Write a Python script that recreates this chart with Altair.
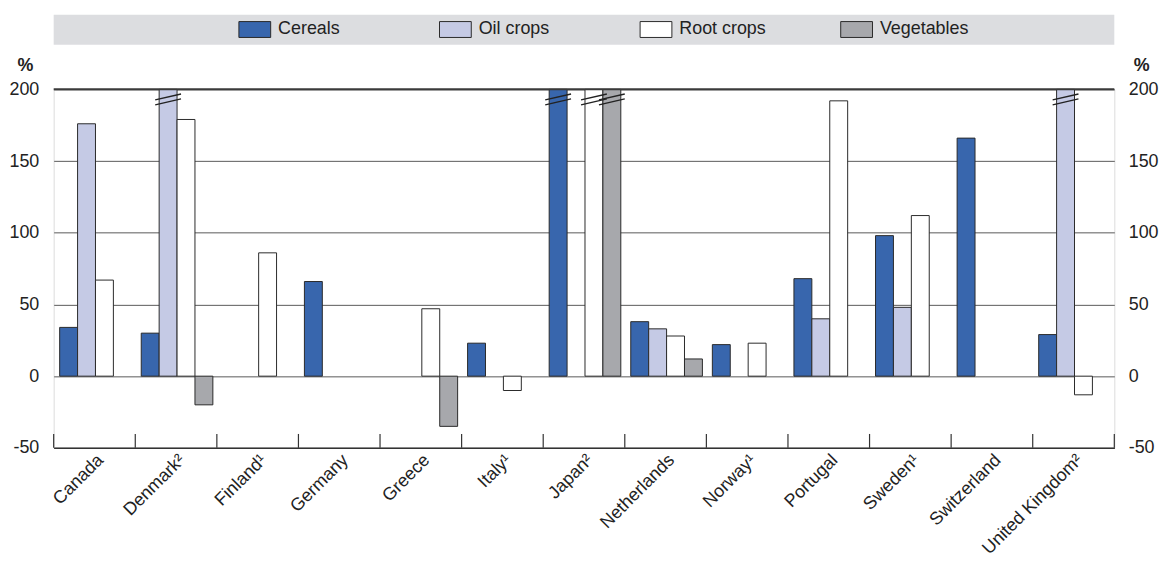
import altair as alt
import pandas as pd

countries = ["Canada", "Denmark²", "Finland¹", "Germany", "Greece", "Italy¹", "Japan²",
             "Netherlands", "Norway¹", "Portugal", "Sweden¹", "Switzerland", "United Kingdom²"]
crops = ["Cereals", "Oil crops", "Root crops", "Vegetables"]
colors = ["#3866ad", "#c5cae5", "#ffffff", "#a7a8ac"]

cereals = [34, 30, None, 66, None, 23, 200, 38, 22, 68, 98, 166, 29]
oil_crops = [176, 200, None, None, None, None, None, 33, None, 40, 48, None, 200]
root_crops = [67, 179, 86, None, 47, -10, 200, 28, 23, 192, 112, None, -13]
vegetables = [None, -20, None, None, -35, None, 200, 12, None, None, None, None, None]

# bars that run off the top of the scale (drawn with break marks)
broken = [("Denmark²", "Oil crops"), ("Japan²", "Cereals"), ("Japan²", "Root crops"),
          ("Japan²", "Vegetables"), ("United Kingdom²", "Oil crops")]
break_level = 193

y_ticks = [-50, 0, 50, 100, 150, 200]

rows = []
for crop, series in zip(crops, [cereals, oil_crops, root_crops, vegetables]):
    for c, v in zip(countries, series):
        if v is not None:
            rows.append({"country": c, "crop": crop, "value": v})
df = pd.DataFrame(rows)
brk = pd.DataFrame([{"country": c, "crop": k, "value": break_level} for c, k in broken])
tick_df = pd.DataFrame({"country": countries})
top_df = pd.DataFrame({"v": [200]})
band_df = pd.DataFrame({"a": [0]})

W, H = 1068, 361
FONT = "Liberation Sans, Arial, Helvetica, sans-serif"
TXT = "#222222"

yscale = alt.Scale(domain=[-50, 200], nice=False, zero=False)
xscale = alt.Scale(domain=countries, paddingInner=0, paddingOuter=0)
oscale = alt.Scale(domain=crops, paddingInner=0, paddingOuter=0.278, align=0.6)

x_axis = alt.Axis(title=None, labelAngle=315, labelAlign="right", labelBaseline="top",
                  labelFont=FONT, labelFontSize=18, labelColor=TXT, labelPadding=3,
                  ticks=False, domain=True, domainColor="#333333", domainWidth=1.5,
                  grid=False, labelOverlap=False)

left_axis = alt.Axis(orient="left", values=y_ticks, title="%", titleAngle=0,
                     titleAlign="center", titleBaseline="middle", titleX=-29, titleY=-24,
                     titleFont=FONT, titleFontSize=18, titleFontWeight="bold", titleColor=TXT,
                     labelFont=FONT, labelFontSize=18, labelColor=TXT, labelPadding=15,
                     labelExpr="datum.value",
                     ticks=False, domain=False, grid=True, gridColor="#5a5a5a", gridWidth=1)
right_axis = alt.Axis(orient="right", values=y_ticks, title="%", titleAngle=0,
                      titleAlign="center", titleBaseline="middle", titleX=27, titleY=-24,
                      titleFont=FONT, titleFontSize=18, titleFontWeight="bold", titleColor=TXT,
                      labelFont=FONT, labelFontSize=18, labelColor=TXT, labelPadding=14,
                      labelExpr="datum.value",
                      ticks=False, domain=False, grid=False)

band = alt.Chart(band_df).mark_rect(color="#dcdde0").encode(
    x=alt.value(0), x2=alt.value(W), y=alt.value(-75), y2=alt.value(-45))

bars = alt.Chart(df).mark_bar(stroke="#2a2a2a", strokeWidth=1).encode(
    x=alt.X("country:N", scale=xscale, sort=countries, axis=x_axis),
    xOffset=alt.XOffset("crop:N", scale=oscale, sort=crops),
    y=alt.Y("value:Q", scale=yscale, axis=left_axis),
    color=alt.Color("crop:N", scale=alt.Scale(domain=crops, range=colors),
                    legend=alt.Legend(orient="none", legendX=186, legendY=-77,
                                      direction="horizontal", columns=4, title=None,
                                      symbolType="M-1,-0.5H1V0.5H-1Z", symbolSize=1024,
                                      symbolStrokeColor="#2a2a2a", symbolStrokeWidth=1,
                                      symbolOpacity=1, labelFont=FONT, labelFontSize=18,
                                      labelColor=TXT, labelOffset=7, columnPadding=70,
                                      gridAlign="all")),
)

breaks = alt.Chart(brk).mark_point(
    shape="M-1,0.04L1,-0.42M-1,0.42L1,-0.04", filled=False, stroke="#222222",
    strokeWidth=1.4, size=676, opacity=1).encode(
    x=alt.X("country:N", scale=xscale, sort=countries),
    xOffset=alt.XOffset("crop:N", scale=oscale, sort=crops),
    y=alt.Y("value:Q", scale=yscale, axis=None),
)

ticks = alt.Chart(tick_df).mark_rule(color="#333333", strokeWidth=1.2).encode(
    x=alt.X("country:N", scale=xscale, sort=countries, bandPosition=0),
    y=alt.value(H), y2=alt.value(H - 14))
last_tick = alt.Chart(band_df).mark_rule(color="#333333", strokeWidth=1.2).encode(
    x=alt.value(W), y=alt.value(H), y2=alt.value(H - 14))

top_line = alt.Chart(top_df).mark_rule(color="#3a3a3a", strokeWidth=2).encode(
    y=alt.Y("v:Q", scale=yscale, axis=right_axis))

chart = alt.layer(band, bars, breaks, ticks, last_tick, top_line).resolve_axis(
    y="independent").properties(
    width=W, height=H,
    autosize=alt.AutoSizeParams(type="none"),
    padding={"left": 46, "top": 80, "right": 45, "bottom": 112},
).configure_view(fill="#dcdde0", stroke=None).configure(background="white")

chart.save("out.html", embed_options={"renderer": "svg", "actions": False})
